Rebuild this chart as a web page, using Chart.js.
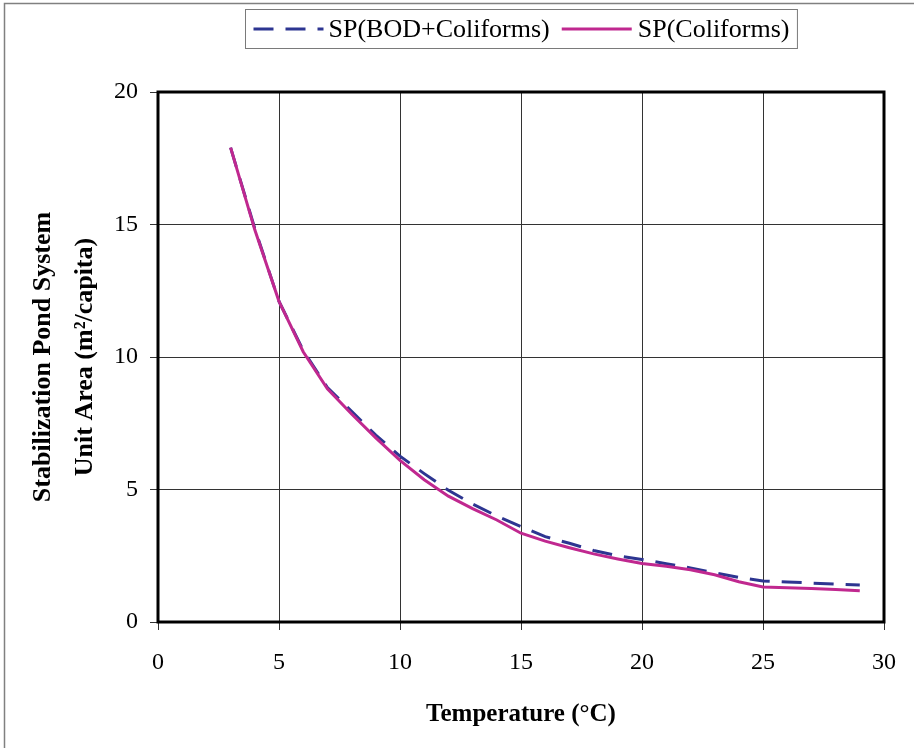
<!DOCTYPE html>
<html>
<head>
<meta charset="utf-8">
<script src="https://cdn.jsdelivr.net/npm/chart.js@4.4.0/dist/chart.umd.min.js"></script>
<style>
  html, body { margin: 0; padding: 0; background: #fff; }
  #wrap { position: relative; width: 914px; height: 748px; }
  canvas { display: block; }
</style>
</head>
<body>
<div id="wrap"><canvas id="pond-chart" width="914" height="748"></canvas></div>
<script>
// values (unit area, m2/capita)
const temperatures = [3, 4, 5, 6, 7, 8, 9, 10, 11, 12, 13, 14, 15, 16, 17, 18, 19, 20, 21, 22, 23, 24, 25, 26, 27, 28, 29];
const spBodColiforms = [17.9, 14.85, 12.1, 10.25, 8.85, 7.95, 7.05, 6.26, 5.6, 4.97, 4.45, 4.0, 3.6, 3.22, 2.97, 2.7, 2.5, 2.36, 2.2, 2.04, 1.86, 1.68, 1.55, 1.51, 1.47, 1.43, 1.4];
const spColiforms = [17.9, 14.8, 12.1, 10.2, 8.8, 7.85, 6.95, 6.1, 5.37, 4.75, 4.28, 3.85, 3.35, 3.05, 2.8, 2.57, 2.38, 2.21, 2.1, 1.97, 1.78, 1.52, 1.32, 1.29, 1.26, 1.23, 1.18];
const xTicks = [0, 5, 10, 15, 20, 25, 30];
const yTicks = [0, 5, 10, 15, 20];

const seriesNames = ['SP(BOD+Coliforms)', 'SP(Coliforms)'];
const BLUE = '#2d3591';
const MAGENTA = '#c0288f';
const SERIF = '"Liberation Serif", "Times New Roman", serif';

const toPoints = (vals) => temperatures.map((t, i) => ({ x: t, y: vals[i] }));

// thin outer frame + thick plot frame
const framePlugin = {
    id: 'frames',
    beforeDraw(chart) {
        const ctx = chart.ctx;
        ctx.save();
        ctx.strokeStyle = '#808080';
        ctx.lineWidth = 1.5;
        ctx.beginPath();
        ctx.moveTo(4.5, chart.height);
        ctx.lineTo(4.5, 3.5);
        ctx.lineTo(chart.width, 3.5);
        ctx.stroke();
        ctx.restore();
    },
    afterDraw(chart) {
        const a = chart.chartArea;
        const ctx = chart.ctx;
        ctx.save();
        ctx.strokeStyle = '#000';
        ctx.lineWidth = 3;
        ctx.strokeRect(a.left, a.top, a.right - a.left, a.bottom - a.top);
        ctx.restore();
    }
};

// legend with a box around it, centred over the plot
const boxLegend = {
    id: 'boxLegend',
    afterDraw(chart) {
        const ctx = chart.ctx;
        const a = chart.chartArea;
        const sets = chart.data.datasets;
        ctx.save();
        ctx.font = '26px ' + SERIF;
        const sample = 70;
        const w0 = ctx.measureText(sets[0].label).width;
        const w1 = ctx.measureText(sets[1].label).width;
        const total = 8 + sample + 5 + w0 + 12 + sample + 6 + w1 + 8;
        const left = Math.round((a.left + a.right) / 2 - total / 2) + 0.5;
        const top = 9.5, h = 39;
        const midY = top + h / 2;

        ctx.strokeStyle = '#7a7a7a';
        ctx.lineWidth = 1;
        ctx.strokeRect(left, top, total, h);

        let x = left + 8;
        sets.forEach((ds, i) => {
            ctx.strokeStyle = ds.borderColor;
            ctx.lineWidth = 3;
            ctx.setLineDash(ds.borderDash || []);
            ctx.beginPath();
            ctx.moveTo(x, midY);
            ctx.lineTo(x + sample, midY);
            ctx.stroke();
            ctx.setLineDash([]);
            x += sample + (i === 0 ? 5 : 6);
            ctx.fillStyle = '#000';
            ctx.textBaseline = 'middle';
            ctx.fillText(ds.label, x, midY + 1);
            x += (i === 0 ? w0 : w1) + 12;
        });
        ctx.restore();
    }
};

new Chart(document.getElementById('pond-chart'), {
    type: 'line',
    data: {
        datasets: [
            {
                label: seriesNames[0],
                data: toPoints(spBodColiforms),
                borderColor: BLUE,
                borderWidth: 3,
                borderDash: [20, 12],
                pointRadius: 0,
                tension: 0,
                fill: false,
                order: 1
            },
            {
                label: seriesNames[1],
                data: toPoints(spColiforms),
                borderColor: MAGENTA,
                borderWidth: 3,
                pointRadius: 0,
                tension: 0,
                fill: false,
                order: 0
            }
        ]
    },
    options: {
        responsive: false,
        animation: false,
        devicePixelRatio: 1,
        layout: { padding: { top: 92, right: 30, bottom: 0, left: 0 } },
        plugins: {
            legend: { display: false },
            tooltip: { enabled: false }
        },
        scales: {
            x: {
                type: 'linear',
                min: 0,
                max: 30,
                afterBuildTicks: (scale) => { scale.ticks = xTicks.map(v => ({ value: v })); },
                afterFit: (scale) => { scale.height = 126; },
                grid: { color: '#333', lineWidth: 1, tickLength: 8 },
                border: { display: false },
                ticks: { color: '#000', padding: 18, maxRotation: 0, font: { family: SERIF, size: 24 } },
                title: {
                    display: true,
                    text: 'Temperature (°C)',
                    color: '#000',
                    font: { family: SERIF, size: 25, weight: 'bold' },
                    padding: { top: 0, bottom: 18 }
                }
            },
            y: {
                min: 0,
                max: 20,
                afterBuildTicks: (scale) => { scale.ticks = yTicks.map(v => ({ value: v })); },
                afterFit: (scale) => { scale.width = 158; },
                grid: { color: '#333', lineWidth: 1, tickLength: 8 },
                border: { display: false },
                ticks: { color: '#000', padding: 12, font: { family: SERIF, size: 24 } },
                title: {
                    display: true,
                    text: ['Stabilization Pond System', 'Unit Area (m²/capita)'],
                    color: '#000',
                    font: { family: SERIF, size: 26, weight: 'bold', lineHeight: 1.62 },
                    padding: { top: 22, bottom: 0 }
                }
            }
        }
    },
    plugins: [framePlugin, boxLegend]
});
</script>
</body>
</html>
